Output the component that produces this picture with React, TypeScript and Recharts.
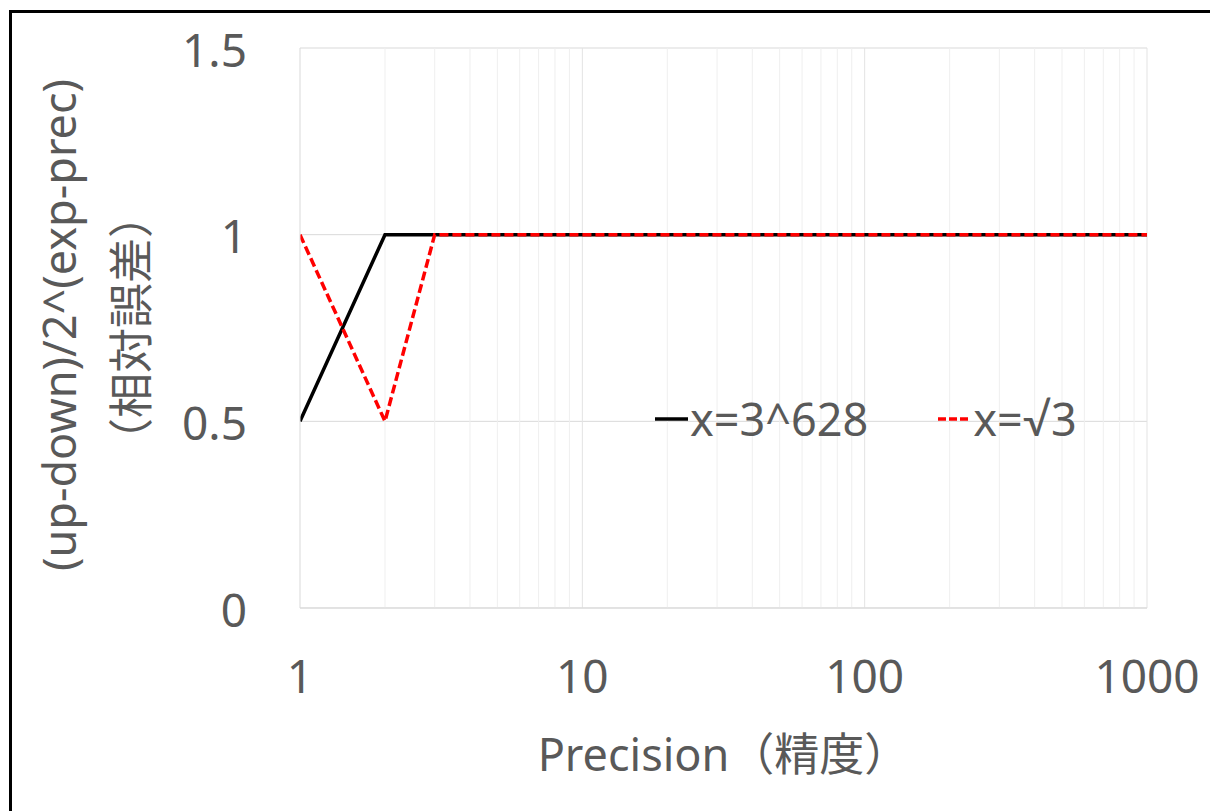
import {
  LineChart,
  Line,
  XAxis,
  YAxis,
  CartesianGrid,
  ReferenceLine,
  Legend,
} from "recharts";

const precisions = [1, 2, 3, 4, 5, 6, 7, 8, 9, 10, 20, 30, 50, 100, 200, 300, 500, 1000];
const errPow = [0.5, 1, 1, 1, 1, 1, 1, 1, 1, 1, 1, 1, 1, 1, 1, 1, 1, 1];
const errSqrt = [1, 0.5, 1, 1, 1, 1, 1, 1, 1, 1, 1, 1, 1, 1, 1, 1, 1, 1];

const xTicks = [1, 10, 100, 1000];
const yTicks = [0, 0.5, 1, 1.5];
const gridX = [2, 3, 4, 5, 6, 7, 8, 9, 10, 20, 30, 40, 50, 60, 70, 80, 90, 100, 200, 300, 400, 500, 600, 700, 800, 900, 1000];

const data = precisions.map((p, i) => ({ prec: p, pow: errPow[i], sqrt: errSqrt[i] }));

const FONT = '"Noto Sans", "Noto Sans CJK JP", sans-serif';
const TEXT = "#595959";

const XTick = ({ x, y, payload }: any) => (
  <text x={x} y={y} dy="0.36em" textAnchor="middle" fill={TEXT} fontSize={46} fontFamily={FONT}>
    {payload.value}
  </text>
);

const YTick = ({ x, y, payload }: any) => (
  <text x={x} y={y + 2} dy="0.36em" textAnchor="end" fill={TEXT} fontSize={46} fontFamily={FONT}>
    {payload.value}
  </text>
);

const YLabel = ({ viewBox }: any) => {
  const cy = viewBox.y + viewBox.height / 2;
  return (
    <g fill={TEXT} fontSize={45} fontFamily={FONT}>
      <text x={60} y={cy - 3} dy="0.36em" textAnchor="middle" transform={`rotate(-90 60 ${cy - 3})`}>
        (up-down)/2^(exp-prec)
      </text>
      <text x={132} y={cy} dy="0.36em" textAnchor="middle" transform={`rotate(-90 132 ${cy})`}>
        （相対誤差）
      </text>
    </g>
  );
};

const XLabel = ({ viewBox }: any) => {
  const cx = viewBox.x + viewBox.width / 2;
  return (
    <text x={cx} y={755} dy="0.36em" textAnchor="middle" fill={TEXT} fontSize={45} fontFamily={FONT}>
      Precision（精度）
    </text>
  );
};

// radical sign from Lato: Noto puts a long bar over it
const legendText = (s: string) =>
  s.split("√").map((part, i) => (
    <span key={i}>
      {i > 0 && <span style={{ fontFamily: 'Lato, "Liberation Sans"' }}>√</span>}
      {part}
    </span>
  ));

const LegendContent = ({ payload }: any) => (
  <div style={{ display: "flex", gap: 70, alignItems: "center", fontFamily: FONT, fontSize: 45, color: TEXT, lineHeight: "50px" }}>
    {(payload || []).map((entry: any) => (
      <div key={entry.value} style={{ display: "flex", alignItems: "center" }}>
        <svg width={33} height={10} style={{ marginRight: 2 }}>
          <line
            x1={0}
            y1={5}
            x2={33}
            y2={5}
            stroke={entry.color}
            strokeWidth={3.5}
            strokeDasharray={entry.payload?.strokeDasharray ? "8 3" : undefined}
          />
        </svg>
        <span>{legendText(entry.value)}</span>
      </div>
    ))}
  </div>
);

export default function App() {
  return (
    <div style={{ position: "fixed", left: 0, top: 0, width: 1210, height: 811, overflow: "hidden", background: "#fff" }}>
      <div
        style={{
          position: "absolute",
          left: 9,
          top: 10,
          width: 1300,
          height: 900,
          borderLeft: "3px solid #000",
          borderTop: "3px solid #000",
        }}
      />
      <div style={{ position: "absolute", left: 0, top: 0 }}>
        <LineChart
          width={1210}
          height={811}
          data={data}
          margin={{ top: 48, right: 63, left: 0, bottom: 0 }}
          style={{ fontFamily: FONT }}
        >
          <CartesianGrid stroke="#d9d9d9" strokeWidth={1} vertical={false} />
          {gridX.map((v) => (
            <ReferenceLine key={v} x={v} stroke={[10, 100, 1000].includes(v) ? "#e3e3e3" : "#efefef"} strokeWidth={1} />
          ))}
          <XAxis
            dataKey="prec"
            type="number"
            scale="log"
            domain={[1, 1000]}
            ticks={xTicks}
            height={203}
            stroke="#d9d9d9"
            tickLine={false}
            tickSize={0}
            tickMargin={68}
            tick={<XTick />}
            label={<XLabel />}
            allowDataOverflow
          />
          <YAxis
            type="number"
            domain={[0, 1.5]}
            ticks={yTicks}
            width={300}
            stroke="#d9d9d9"
            tickLine={false}
            tickSize={0}
            tickMargin={53}
            tick={<YTick />}
            label={<YLabel />}
          />
          <Legend
            layout="horizontal"
            verticalAlign="middle"
            align="center"
            wrapperStyle={{ left: 655, top: 394, width: "auto" }}
            content={<LegendContent />}
          />
          <Line
            type="linear"
            dataKey="pow"
            name="x=3^628"
            stroke="#000000"
            strokeWidth={3.5}
            dot={false}
            isAnimationActive={false}
          />
          <Line
            type="linear"
            dataKey="sqrt"
            name="x=√3"
            stroke="#ff0000"
            strokeWidth={3.5}
            strokeDasharray="9 4"
            dot={false}
            isAnimationActive={false}
          />
        </LineChart>
      </div>
    </div>
  );
}
